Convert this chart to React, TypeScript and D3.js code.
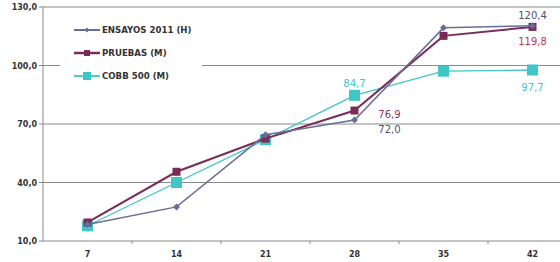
import React, { useEffect, useRef } from "react";
import * as d3 from "d3";

const days = ["7", "14", "21", "28", "35", "42"];
const ensayos = [18.5, 27.5, 64.5, 72.0, 119.3, 120.4];
const pruebas = [19.5, 45.5, 62.5, 76.9, 115.2, 119.8];
const cobb = [17.8, 40.0, 62.0, 84.7, 97.1, 97.7];
const yTicks = [10, 40, 70, 100, 130];

const App: React.FC = () => {
  const ref = useRef<SVGSVGElement>(null);

  useEffect(() => {
    if (!ref.current) return;
    const svg = d3.select(ref.current);
    svg.selectAll("*").remove();

    const left = 43;
    const band = 89;
    const x = d3
      .scaleBand<string>()
      .domain(days)
      .range([left, left + band * days.length]);
    const y = d3.scaleLinear().domain([10, 130]).range([241, 7]);
    const cx = (d: string) => (x(d) as number) + x.bandwidth() / 2;
    const font = "Verdana, 'DejaVu Sans', sans-serif";

    // gridlines
    svg
      .append("g")
      .selectAll("line")
      .data(yTicks.slice(1))
      .enter()
      .append("line")
      .attr("x1", left)
      .attr("x2", 560)
      .attr("y1", (d) => y(d))
      .attr("y2", (d) => y(d))
      .attr("stroke", "#8a8a8a")
      .attr("stroke-width", 1);

    // axes
    svg
      .append("line")
      .attr("x1", left)
      .attr("x2", left)
      .attr("y1", y(130))
      .attr("y2", y(10))
      .attr("stroke", "#8a8a8a");
    svg
      .append("line")
      .attr("x1", left)
      .attr("x2", 560)
      .attr("y1", y(10))
      .attr("y2", y(10))
      .attr("stroke", "#8a8a8a");
    svg
      .append("g")
      .selectAll("line")
      .data(days)
      .enter()
      .append("line")
      .attr("x1", (d) => (x(d) as number) + band)
      .attr("x2", (d) => (x(d) as number) + band)
      .attr("y1", y(10))
      .attr("y2", y(10) + 3)
      .attr("stroke", "#8a8a8a");
    svg
      .append("g")
      .selectAll("line")
      .data(yTicks)
      .enter()
      .append("line")
      .attr("x1", left - 4)
      .attr("x2", left)
      .attr("y1", (d) => y(d))
      .attr("y2", (d) => y(d))
      .attr("stroke", "#8a8a8a");

    svg
      .append("g")
      .selectAll("text")
      .data(yTicks)
      .enter()
      .append("text")
      .attr("x", 37)
      .attr("y", (d) => y(d) + 3)
      .attr("text-anchor", "end")
      .attr("font-family", font)
      .attr("font-weight", "bold")
      .attr("font-size", 8)
      .attr("fill", "#333")
      .text((d) => d.toFixed(1).replace(".", ","));

    svg
      .append("g")
      .selectAll("text")
      .data(days)
      .enter()
      .append("text")
      .attr("x", (d) => cx(d))
      .attr("y", 257)
      .attr("text-anchor", "middle")
      .attr("font-family", font)
      .attr("font-weight", "bold")
      .attr("font-size", 8)
      .attr("fill", "#333")
      .text((d) => d);

    // legend background
    svg
      .append("rect")
      .attr("x", 60)
      .attr("y", 16)
      .attr("width", 142)
      .attr("height", 72)
      .attr("fill", "#fff");

    const series = [
      { name: "ENSAYOS 2011 (H)", values: ensayos, color: "#6a6d98", width: 1.5, marker: "diamond", size: 7, legSize: 5 },
      { name: "PRUEBAS (M)", values: pruebas, color: "#7a2c58", width: 2, marker: "square", size: 8, legSize: 6 },
      { name: "COBB 500 (M)", values: cobb, color: "#3fc6c8", width: 1.3, marker: "square", size: 11, legSize: 8 },
    ];

    const line = d3
      .line<number>()
      .x((_, i) => cx(days[i]))
      .y((d) => y(d));

    const drawMarker = (
      g: d3.Selection<SVGGElement, unknown, null, undefined>,
      px: number,
      py: number,
      s: (typeof series)[number],
      size: number
    ) => {
      if (s.marker === "diamond") {
        const r = size / 2;
        g.append("path")
          .attr("d", `M${px},${py - r}L${px + r},${py}L${px},${py + r}L${px - r},${py}Z`)
          .attr("fill", s.color);
      } else {
        g.append("rect")
          .attr("x", px - size / 2)
          .attr("y", py - size / 2)
          .attr("width", size)
          .attr("height", size)
          .attr("fill", s.color);
      }
    };

    [2, 1, 0].forEach((k) => {
      const s = series[k];
      const g = svg.append("g");
      g.append("path")
        .attr("d", line(s.values) as string)
        .attr("fill", "none")
        .attr("stroke", s.color)
        .attr("stroke-width", s.width);
      s.values.forEach((v, i) => drawMarker(g, cx(days[i]), y(v), s, s.size));
    });

    // legend
    series.forEach((s, i) => {
      const ly = 30 + i * 23;
      const g = svg.append("g");
      g.append("line")
        .attr("x1", 74)
        .attr("x2", 100)
        .attr("y1", ly)
        .attr("y2", ly)
        .attr("stroke", s.color)
        .attr("stroke-width", s.width + 0.5);
      drawMarker(g, 87, ly, s, s.legSize);
      g.append("text")
        .attr("x", 102)
        .attr("y", ly + 3)
        .attr("font-family", font)
        .attr("font-weight", "bold")
        .attr("font-size", 8.6)
        .attr("fill", "#333")
        .text(s.name);
    });

    // value labels
    const labels = [
      { v: ensayos[5], i: 5, dy: -11, color: "#4d5078" },
      { v: pruebas[5], i: 5, dy: 14, color: "#c3334c" },
      { v: cobb[5], i: 5, dy: 17, color: "#3fc6c8" },
      { v: cobb[3], i: 3, dy: -12, color: "#3fc6c8" },
      { v: pruebas[3], i: 3, dy: 0, dx: 35, color: "#8a3560", ay: 114 },
      { v: ensayos[3], i: 3, dy: 0, dx: 35, color: "#4d5078", ay: 129 },
    ];
    svg
      .append("g")
      .selectAll("text")
      .data(labels)
      .enter()
      .append("text")
      .attr("x", (d) => cx(days[d.i]) + (d.dx ?? 0))
      .attr("y", (d) => (d.ay ?? y(d.v) + d.dy) + 4)
      .attr("text-anchor", "middle")
      .attr("font-family", font)
      .attr("font-size", 10)
      .attr("fill", (d) => d.color)
      .text((d) => d.v.toFixed(1).replace(".", ","));
  }, []);

  return (
    <svg
      ref={ref}
      width={560}
      height={262}
      style={{ position: "absolute", left: 0, top: 0, background: "#fff" }}
    />
  );
};

export default App;
